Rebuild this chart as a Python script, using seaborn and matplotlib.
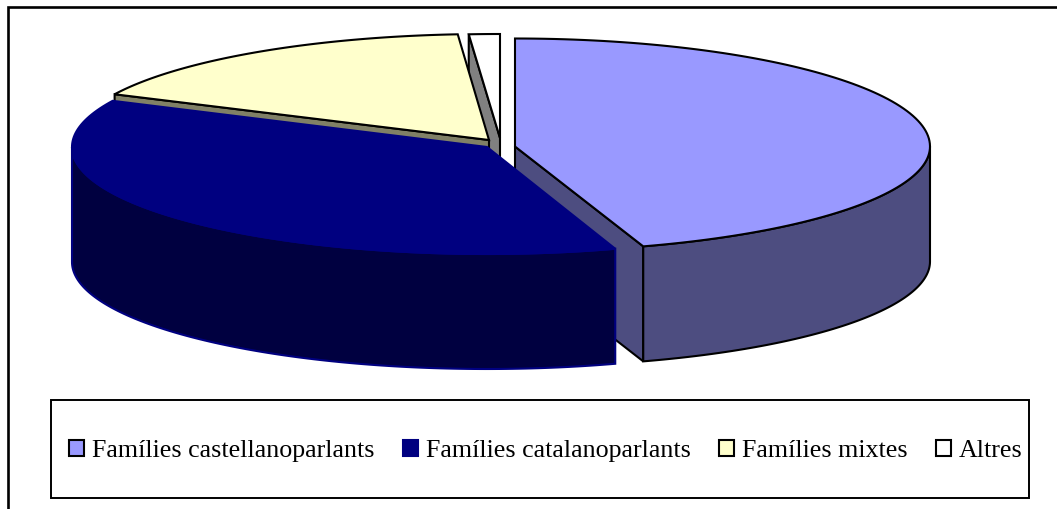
import numpy as np
import matplotlib
matplotlib.use("Agg")
import matplotlib.pyplot as plt
from matplotlib.patches import Patch, Rectangle
import seaborn as sns

# Datos
categorias = ["Famílies castellanoparlants", "Famílies catalanoparlants", "Famílies mixtes", "Altres"]
valores = [45.0, 37.1, 16.7, 1.2]

colores = ["#9999FF", "#000080", "#FFFFCC", "#FFFFFF"]
colores_lado = ["#4D4D80", "#000040", "#808066", "#808080"]
bordes = ["black", "#000080", "black", "black"]

# Centro de cada porcion (separadas) y elipse
centro_x = [515, 487, 489, 500]
centro_y = [146.5, 147, 140, 138]
radio_atras = [108, 107, 106, 104]
radio_frente = [105, 107, 106, 104]
radio_x = 415
grosor = 115
cara_visible = {0: "fin", 2: "inicio", 3: "inicio"}
orden = [3, 2, 0, 1]

sns.set_theme(style="white")
plt.rcParams["font.family"] = ["Liberation Serif", "DejaVu Serif"]

fig = plt.figure(figsize=(10.57, 5.09), dpi=100)
ax = fig.add_axes([0, 0, 1, 1])
ax.set_xlim(0, 1057)
ax.set_ylim(509, 0)
ax.axis("off")

# Marco exterior (sigue fuera de la imagen por la derecha y por abajo)
ax.add_patch(Rectangle((8, 7), 1100, 530, fc="white", ec="black", lw=1.9, zorder=0))

fin = np.cumsum(valores) / np.sum(valores) * 360
inicio = np.concatenate([[0], fin[:-1]])


def arco(i, t0, t1):
    t = np.radians(np.linspace(t0, t1, 120))
    c = np.cos(t)
    r = np.where(c >= 0, radio_atras[i], radio_frente[i])
    return centro_x[i] + radio_x * np.sin(t), centro_y[i] - r * c


for z, i in enumerate(orden):
    t0, t1 = inicio[i], fin[i]
    cx, cy = centro_x[i], centro_y[i]
    estilo = dict(fc=colores_lado[i], ec=bordes[i], lw=1.5, zorder=z + 1, joinstyle="miter")
    # cara interior visible
    if i in cara_visible:
        t = fin[i] if cara_visible[i] == "fin" else inicio[i]
        x, y = arco(i, t, t)
        ax.fill([cx, x[0], x[0], cx], [cy, y[0], y[0] + grosor, cy + grosor], **estilo)
    # lado curvo
    a, b = max(t0, 90), min(t1, 270)
    if b > a:
        x, y = arco(i, a, b)
        ax.fill(np.r_[x, x[::-1]], np.r_[y, y[::-1] + grosor], **estilo)
    # cara superior
    x, y = arco(i, t0, t1)
    estilo["fc"] = colores[i]
    ax.fill(np.r_[cx, x], np.r_[cy, y], **estilo)

# Leyenda
ax.add_patch(Rectangle((51, 400), 978, 98, fc="white", ec="black", lw=1.4, zorder=5))
manejadores = [Patch(fc=c, ec=b, lw=1.5) for c, b in zip(colores, bordes)]
ley = ax.legend(manejadores, categorias, ncol=4, frameon=False, fontsize=18.7,
                loc="center left", bbox_to_anchor=(69 / 1057, 1 - 451 / 509),
                borderpad=0, borderaxespad=0, handlelength=0.57, handleheight=0.57,
                handletextpad=0.31, columnspacing=1.1, labelcolor="black")
ley.set_zorder(6)

fig.savefig("out.png", dpi=100)
plt.close()
